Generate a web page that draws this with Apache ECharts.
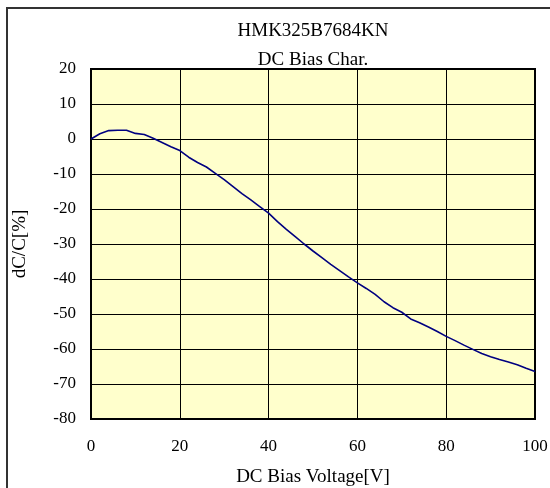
<!DOCTYPE html>
<html>
<head>
<meta charset="utf-8">
<script src="https://cdn.jsdelivr.net/npm/echarts@6/dist/echarts.min.js"></script>
<style>html,body{margin:0;padding:0;background:#fff;}#c{width:550px;height:488px;}</style>
</head>
<body>
<div id="c"></div>
<script>
const voltage = [0,2,4,6,8,10,12,14,16,18,20,22,24,26,28,30,32,34,36,38,40,42,44,46,48,50,52,54,56,58,60,62,64,66,68,70,72,74,76,78,80,82,84,86,88,90,92,94,96,98,100];
const dcc = [0,1.5,2.4,2.5,2.5,1.6,1.3,0.2,-1.0,-2.2,-3.3,-5.2,-6.7,-8.0,-9.8,-11.6,-13.6,-15.6,-17.4,-19.3,-21.2,-23.6,-25.8,-27.9,-30.0,-32.0,-33.9,-35.8,-37.6,-39.4,-41.1,-42.7,-44.4,-46.5,-48.2,-49.5,-51.4,-52.5,-53.7,-55.0,-56.4,-57.6,-58.9,-60.1,-61.3,-62.2,-63.0,-63.7,-64.5,-65.5,-66.4];
const titleLines = ['HMK325B7684KN', 'DC Bias Char.'];
const xName = 'DC Bias Voltage[V]';
const yName = 'dC/C[%]';

const font = "'Liberation Serif', 'Times New Roman', serif";
const chart = echarts.init(document.getElementById('c'), null, {renderer: 'canvas'});
chart.setOption({
  animation: false,
  backgroundColor: '#fff',
  graphic: [{
    type: 'rect', shape: {x: 7, y: 8, width: 600, height: 600},
    style: {fill: 'none', stroke: '#333', lineWidth: 2}, z: -1
  }],
  title: {
    text: titleLines.join('\n'),
    left: 313, top: 17, textAlign: 'center', padding: 0,
    textStyle: {fontFamily: font, fontSize: 19, fontWeight: 'normal', color: '#000', lineHeight: 29}
  },
  grid: {
    left: 91, top: 69, width: 444, height: 350,
    containLabel: false, outerBoundsMode: 'none',
    show: true, backgroundColor: '#FFFFCC', borderColor: '#000', borderWidth: 2
  },
  xAxis: {
    type: 'value', min: 0, max: 100, interval: 20,
    name: xName, nameLocation: 'middle', nameGap: 49,
    nameTextStyle: {fontFamily: font, fontSize: 19, color: '#000'},
    axisLine: {show: false}, axisTick: {show: false},
    axisLabel: {fontFamily: font, fontSize: 17, color: '#000', margin: 19},
    splitLine: {show: true, lineStyle: {color: '#000', width: 1}}
  },
  yAxis: {
    type: 'value', min: -80, max: 20, interval: 10,
    name: yName, nameLocation: 'middle', nameGap: 61,
    nameTextStyle: {fontFamily: font, fontSize: 19, color: '#000'},
    axisLine: {show: false}, axisTick: {show: false},
    axisLabel: {fontFamily: font, fontSize: 17, color: '#000', margin: 15},
    splitLine: {show: true, lineStyle: {color: '#000', width: 1}}
  },
  series: [{
    type: 'line', data: voltage.map((v, i) => [v, dcc[i]]),
    showSymbol: false, smooth: false,
    lineStyle: {color: '#000080', width: 1.6}
  }]
});
</script>
</body>
</html>
